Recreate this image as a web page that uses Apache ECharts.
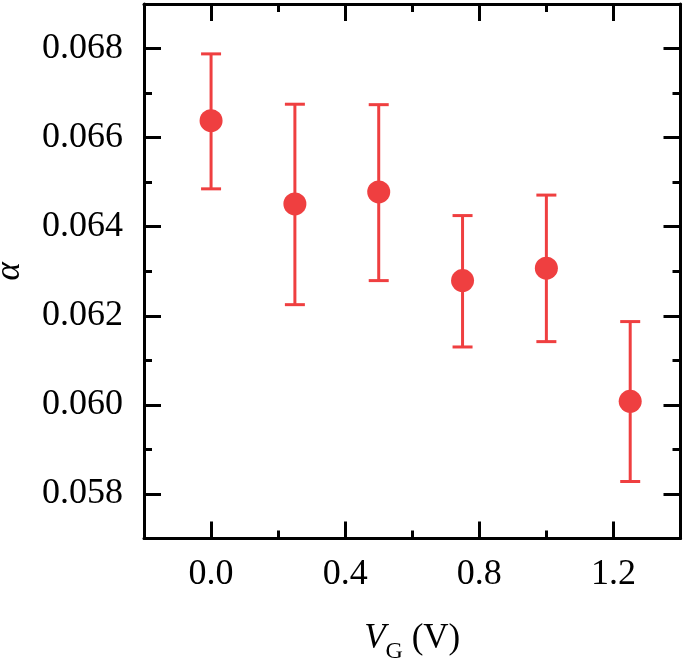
<!DOCTYPE html>
<html>
<head>
<meta charset="utf-8">
<script src="https://cdn.jsdelivr.net/npm/echarts@6/dist/echarts.min.js"></script>
<style>
  html, body { margin: 0; padding: 0; background: #fff; }
  #chart { width: 685px; height: 665px; }
</style>
</head>
<body>
<div id="chart"></div>
<script>
// data
const vg = [0, 0.25, 0.5, 0.75, 1.0, 1.25];
const alpha = [0.06638, 0.06451, 0.06478, 0.06279, 0.06307, 0.06008];
const errLow = [0.06485, 0.06225, 0.06279, 0.06130, 0.06142, 0.05828];
const errHigh = [0.06788, 0.06675, 0.06674, 0.06425, 0.06471, 0.06187];

// ticks
const xMajor = [0, 0.4, 0.8, 1.2];
const xMinor = [0.2, 0.6, 1.0];
const yMajor = [0.058, 0.060, 0.062, 0.064, 0.066, 0.068];
const yMinor = [0.059, 0.061, 0.063, 0.065, 0.067];

const red = '#ef3f40';
const font = "'Liberation Serif', 'Times New Roman', serif";

let myChart = echarts.init(document.getElementById('chart'));

function axisBase(extra) {
  return Object.assign({
    type: 'value',
    splitLine: { show: false },
    axisLine: { show: true, onZero: false, lineStyle: { color: '#000', width: 3 } },
    axisLabel: { show: false },
    axisTick: { show: true, inside: true, length: 17, lineStyle: { color: '#000', width: 3 } }
  }, extra);
}

function ticks(vals, len) {
  return { show: true, inside: true, length: len, customValues: vals, lineStyle: { color: '#000', width: 3 } };
}

const xr = { min: -0.2, max: 1.4 };
const yr = { min: 0.057, max: 0.069 };

myChart.setOption({
  animation: false,
  grid: { left: 144, right: 4.5, top: 4, bottom: 126.5, outerBoundsMode: 'none', containLabel: false },
  xAxis: [
    axisBase(Object.assign({}, xr, {
      position: 'bottom',
      axisTick: ticks(xMajor, 17),
      axisLabel: {
        show: true, customValues: xMajor, margin: 18,
        fontFamily: font, fontSize: 36, color: '#000',
        formatter: (v) => v.toFixed(1)
      },
      name: '{v|V}{g|G} (V)',
      nameLocation: 'middle',
      nameGap: 75,
      nameTextStyle: {
        fontFamily: font, fontSize: 35, color: '#000', lineHeight: 50,
        rich: {
          v: { fontFamily: font, fontSize: 35, fontStyle: 'italic', color: '#000', lineHeight: 50 },
          g: { fontFamily: font, fontSize: 24, color: '#000', lineHeight: 16, verticalAlign: 'bottom' }
        }
      }
    })),
    axisBase(Object.assign({}, xr, { position: 'bottom', axisLine: { show: false, onZero: false }, axisTick: ticks(xMinor, 8) })),
    axisBase(Object.assign({}, xr, { position: 'top', axisTick: ticks(xMajor, 17) })),
    axisBase(Object.assign({}, xr, { position: 'top', axisLine: { show: false, onZero: false }, axisTick: ticks(xMinor, 8) }))
  ],
  yAxis: [
    axisBase(Object.assign({}, yr, {
      position: 'left',
      axisTick: ticks(yMajor, 17),
      axisLabel: {
        show: true, customValues: yMajor, margin: 21,
        fontFamily: font, fontSize: 36, color: '#000',
        formatter: (v) => v.toFixed(3)
      },
      name: 'α',
      nameLocation: 'middle',
      nameGap: 117,
      nameTextStyle: { fontFamily: font, fontSize: 35, fontStyle: 'italic', color: '#000' }
    })),
    axisBase(Object.assign({}, yr, { position: 'left', axisLine: { show: false, onZero: false }, axisTick: ticks(yMinor, 8) })),
    axisBase(Object.assign({}, yr, { position: 'right', axisTick: ticks(yMajor, 17) })),
    axisBase(Object.assign({}, yr, { position: 'right', axisLine: { show: false, onZero: false }, axisTick: ticks(yMinor, 8) }))
  ],
  series: [
    {
      type: 'custom',
      xAxisIndex: 0,
      yAxisIndex: 0,
      data: vg.map((x, i) => [x, errLow[i], errHigh[i]]),
      renderItem: function (params, api) {
        const lo = api.coord([api.value(0), api.value(1)]);
        const hi = api.coord([api.value(0), api.value(2)]);
        const hw = 10;
        const style = { stroke: red, lineWidth: 3 };
        return {
          type: 'group',
          children: [
            { type: 'line', shape: { x1: lo[0], y1: lo[1], x2: hi[0], y2: hi[1] }, style: style },
            { type: 'line', shape: { x1: hi[0] - hw, y1: hi[1], x2: hi[0] + hw, y2: hi[1] }, style: style },
            { type: 'line', shape: { x1: lo[0] - hw, y1: lo[1], x2: lo[0] + hw, y2: lo[1] }, style: style }
          ]
        };
      },
      z: 2
    },
    {
      type: 'scatter',
      xAxisIndex: 0,
      yAxisIndex: 0,
      symbol: 'circle',
      symbolSize: 23,
      itemStyle: { color: red, opacity: 1 },
      data: vg.map((x, i) => [x, alpha[i]]),
      z: 3
    }
  ]
});
window.onresize = myChart.resize;
</script>
</body>
</html>
